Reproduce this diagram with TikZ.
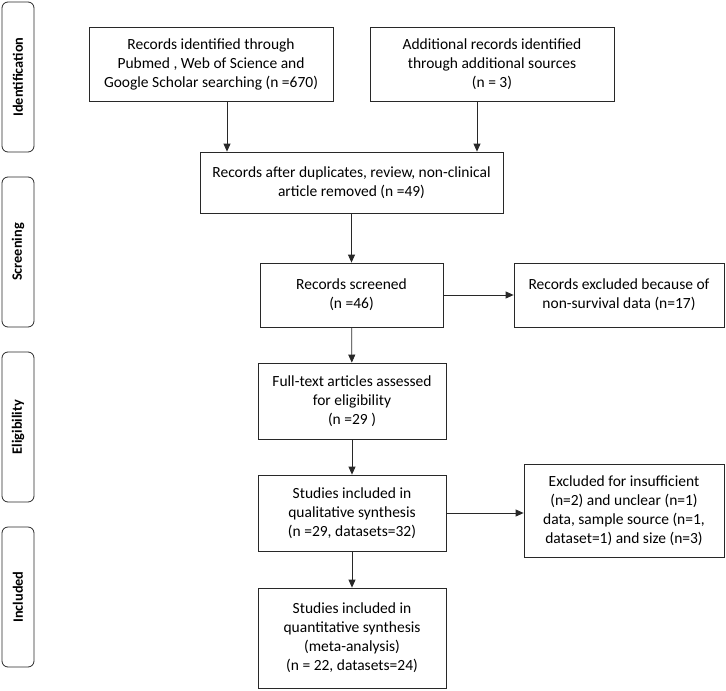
\documentclass[tikz,border=0pt]{standalone}
\usepackage{fontspec}
\setmainfont{Carlito}
\usetikzlibrary{arrows.meta}
\definecolor{line_grey}{RGB}{40,40,40}

\begin{document}
\begin{tikzpicture}[->,x=1pt,y=-1pt,>={Triangle[length=8pt,width=7pt]},line width=0.8pt]
    \tikzstyle{box}=[draw=line_grey, rectangle, align=center, inner sep=0pt, text=black, font=\fontsize{15.5}{19}\selectfont]
    \tikzstyle{phase}=[draw=line_grey, rectangle, rounded corners=6pt, rotate=90, minimum height=32pt, text=black, font=\bfseries\fontsize{14.3}{17}\selectfont]
    \useasboundingbox (0,0) rectangle (726,691);

    \node[phase, minimum width=150pt] (P1) at (18,77)  {Identification};
    \node[phase, minimum width=150pt] (P2) at (18,252) {Screening};
    \node[phase, minimum width=150pt] (P3) at (18,427) {Eligibility};
    \node[phase, minimum width=140pt] (P4) at (18,597) {Included};

    \node[box, minimum width=244pt, minimum height=74pt]  (A) at (211,64)    {Records identified through\\Pubmed , Web of Science and\\Google Scholar searching (n =670)};
    \node[box, minimum width=244pt, minimum height=74pt]  (B) at (492,64)    {Additional records identified\\through additional sources\\(n = 3)};
    \node[box, minimum width=303pt, minimum height=61pt]  (C) at (351.5,182.5) {Records after duplicates, review, non-clinical\\article removed (n =49)};
    \node[box, minimum width=183pt, minimum height=64pt]  (D) at (351.5,295) {Records screened\\(n =46)};
    \node[box, minimum width=210pt, minimum height=64pt]  (E) at (619,295)   {Records excluded because of\\non-survival data (n=17)};
    \node[box, minimum width=188pt, minimum height=76pt]  (F) at (352,401)   {Full-text articles assessed\\for eligibility\\(n =29 )};
    \node[box, minimum width=188pt, minimum height=76pt]  (G) at (352,513)   {Studies included in\\qualitative synthesis\\(n =29, datasets=32)};
    \node[box, minimum width=200pt, minimum height=93pt]  (H) at (624,510.5) {Excluded for insufficient\\(n=2) and unclear (n=1)\\data, sample source (n=1,\\dataset=1) and size (n=3)};
    \node[box, minimum width=188pt, minimum height=100pt] (I) at (352,638)   {Studies included in\\quantitative synthesis\\(meta-analysis)\\(n = 22, datasets=24)};

    \path[line_grey]
     ([xshift=16pt]A.south) edge ([xshift=16pt]A.south |- C.north)
     ([xshift=-15pt]B.south) edge ([xshift=-15pt]B.south |- C.north)
     (C) edge (D)
     (D) edge (E)
     (D) edge (F)
     (F) edge (G)
     (G.east) edge (G.east -| H.west)
     (G) edge (I);
\end{tikzpicture}
\end{document}
